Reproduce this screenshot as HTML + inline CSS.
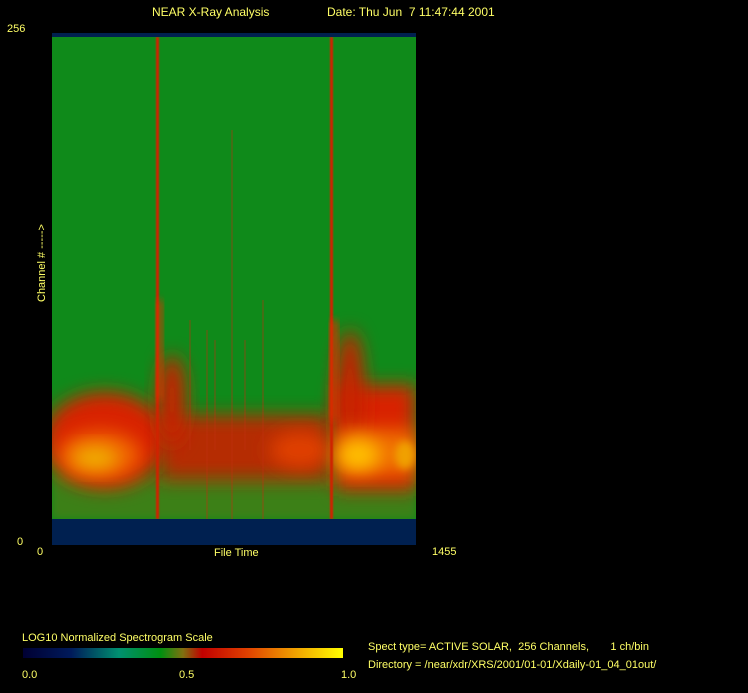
<!DOCTYPE html>
<html><head><style>
body{margin:0;background:#000;width:748px;height:693px;overflow:hidden;font-family:"Liberation Sans",sans-serif;}
text{white-space:pre;}
</style></head><body>
<svg width="748" height="693" xmlns="http://www.w3.org/2000/svg" style="position:absolute;left:0;top:0">
<defs>
<filter id="b8" x="-50%" y="-50%" width="200%" height="200%"><feGaussianBlur stdDeviation="9"/></filter>
<filter id="b4" x="-50%" y="-50%" width="200%" height="200%"><feGaussianBlur stdDeviation="4"/></filter>
<filter id="b1" x="-50%" y="-50%" width="200%" height="200%"><feGaussianBlur stdDeviation="0.7"/></filter>
<linearGradient id="cb" x1="0" x2="1">
<stop offset="0" stop-color="#000033"/><stop offset="0.15" stop-color="#001a5a"/>
<stop offset="0.3" stop-color="#009070"/><stop offset="0.43" stop-color="#009010"/>
<stop offset="0.5" stop-color="#807010"/><stop offset="0.56" stop-color="#c00000"/>
<stop offset="0.7" stop-color="#e04000"/><stop offset="0.85" stop-color="#f0a000"/>
<stop offset="1" stop-color="#ffff00"/></linearGradient>
<clipPath id="cp"><rect x="52" y="37" width="364" height="482"/></clipPath>
</defs>
<rect x="52" y="33" width="364" height="5" fill="#00204f"/>
<rect x="52" y="37" width="364" height="482" fill="#0f8a1a"/>
<g clip-path="url(#cp)">
<rect x="52" y="475" width="364" height="44" fill="#5a7a12" opacity="0.6" filter="url(#b4)"/>
<ellipse cx="105" cy="440" rx="62" ry="48" fill="#d82000" filter="url(#b8)"/>
<ellipse cx="100" cy="455" rx="42" ry="24" fill="#f06000" filter="url(#b8)"/>
<ellipse cx="95" cy="458" rx="24" ry="12" fill="#f0b000" filter="url(#b8)"/>
<rect x="160" y="415" width="170" height="65" fill="#c82000" opacity="0.9" filter="url(#b8)"/>
<ellipse cx="172" cy="400" rx="14" ry="45" fill="#c82000" filter="url(#b8)"/>
<ellipse cx="300" cy="450" rx="30" ry="18" fill="#e04000" filter="url(#b8)"/>
<rect x="336" y="385" width="80" height="105" fill="#d82000" filter="url(#b8)"/>
<ellipse cx="350" cy="400" rx="15" ry="70" fill="#c82000" filter="url(#b8)"/>
<rect x="338" y="430" width="78" height="45" fill="#f07000" filter="url(#b8)"/>
<ellipse cx="358" cy="455" rx="22" ry="16" fill="#ffc000" filter="url(#b8)"/>
<ellipse cx="405" cy="455" rx="10" ry="14" fill="#f0a000" filter="url(#b4)"/>
<rect x="156" y="37" width="3" height="482" fill="#d02000" filter="url(#b1)"/>
<rect x="330" y="37" width="3" height="482" fill="#d02000" filter="url(#b1)"/>
<rect x="157" y="300" width="5" height="100" fill="#e03000" filter="url(#b4)"/>
<rect x="331" y="320" width="6" height="100" fill="#e03000" filter="url(#b4)"/>
<g stroke="#c03010" stroke-width="1" opacity="0.6">
<line x1="232" y1="130" x2="232" y2="519"/><line x1="263" y1="300" x2="263" y2="519"/>
<line x1="207" y1="330" x2="207" y2="519"/><line x1="215" y1="340" x2="215" y2="450"/>
<line x1="245" y1="340" x2="245" y2="450"/><line x1="190" y1="320" x2="190" y2="450"/>
</g>
</g>
<rect x="52" y="519" width="364" height="26" fill="#002050"/>
<g fill="#ffff66" font-size="12">
<text x="152" y="16">NEAR X-Ray Analysis</text>
<text x="327" y="16">Date: Thu Jun  7 11:47:44 2001</text>
<text x="7" y="32" font-size="11">256</text>
<text x="17" y="545" font-size="11">0</text>
<text x="37" y="555" font-size="11">0</text>
<text x="432" y="555" font-size="11">1455</text>
<text x="214" y="556" font-size="11">File Time</text>
<text transform="translate(45,302) rotate(-90)" font-size="11">Channel # -----&gt;</text>
<text x="22" y="641" font-size="11">LOG10 Normalized Spectrogram Scale</text>
<text x="22" y="678" font-size="11">0.0</text>
<text x="179" y="678" font-size="11">0.5</text>
<text x="341" y="678" font-size="11">1.0</text>
<text x="368" y="650" font-size="11">Spect type= ACTIVE SOLAR,  256 Channels,       1 ch/bin</text>
<text x="368" y="668" font-size="11">Directory = /near/xdr/XRS/2001/01-01/Xdaily-01_04_01out/</text>
</g>
<rect x="23" y="648" width="320" height="10" fill="url(#cb)"/>
</svg>
</body></html>
